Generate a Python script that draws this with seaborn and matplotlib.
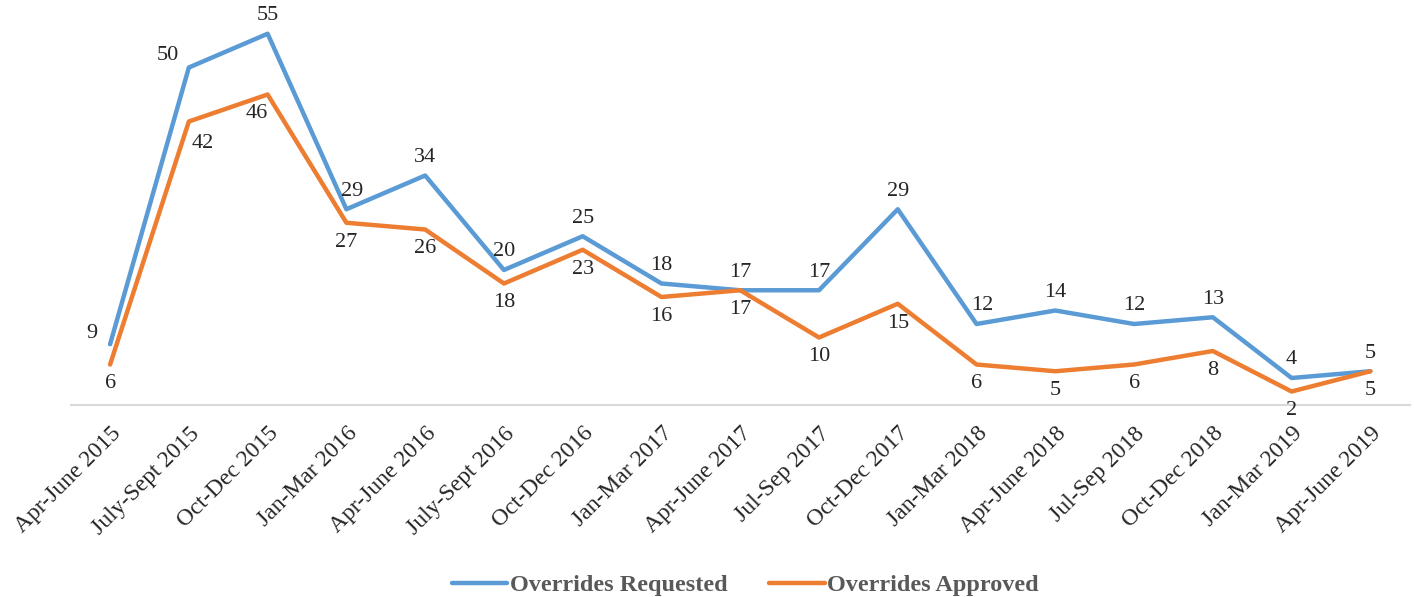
import pandas as pd
import matplotlib.pyplot as plt
import seaborn as sns

# Dados do gráfico
periodos = ["Apr-June 2015", "July-Sept 2015", "Oct-Dec 2015", "Jan-Mar 2016",
            "Apr-June 2016", "July-Sept 2016", "Oct-Dec 2016", "Jan-Mar 2017",
            "Apr-June 2017", "Jul-Sep 2017", "Oct-Dec 2017", "Jan-Mar 2018",
            "Apr-June 2018", "Jul-Sep 2018", "Oct-Dec 2018", "Jan-Mar 2019",
            "Apr-June 2019"]
requested = [9, 50, 55, 29, 34, 20, 25, 18, 17, 17, 29, 12, 14, 12, 13, 4, 5]
approved = [6, 42, 46, 27, 26, 18, 23, 16, 17, 10, 15, 6, 5, 6, 8, 2, 5]

df = pd.DataFrame({
    "x": list(range(len(periodos))) * 2,
    "valor": requested + approved,
    "serie": ["Overrides Requested"] * len(periodos) + ["Overrides Approved"] * len(periodos),
})

sns.set_style("white")
plt.rcParams["font.family"] = ["Liberation Serif", "DejaVu Serif"]

fig = plt.figure(figsize=(14.14, 5.97), dpi=100)
ax = fig.add_axes([0.050, 0.3216, 0.947, 0.6784])

cores = {"Overrides Requested": "#5B9BD5", "Overrides Approved": "#ED7D31"}
sns.lineplot(data=df, x="x", y="valor", hue="serie", palette=cores, linewidth=3.2,
             ax=ax, legend=False)

ax.set_xlim(-0.5, len(periodos) - 0.5)
ax.set_ylim(0, 60)
ax.set_yticks([])
ax.set_xlabel("")
ax.set_ylabel("")
for s in ["top", "right", "left"]:
    ax.spines[s].set_visible(False)
ax.spines["bottom"].set_color("#D9D9D9")
ax.spines["bottom"].set_linewidth(1.5)

ax.set_xticks(range(len(periodos)))
ax.set_xticklabels(periodos, rotation=45, ha="right", rotation_mode="anchor",
                   fontsize=17)
ax.tick_params(axis="x", length=0, pad=13)

# Rótulos de dados
off_req = {0: (-13, 8), 1: (-15, 9), 3: (4, 13), 11: (4, 13)}
off_apr = {1: (10, -16), 2: (-8, -14)}
for i, v in enumerate(requested):
    dx, dy = off_req.get(i, (0, 13))
    ax.annotate(str(v), (i, v), xytext=(dx, dy), textcoords="offset points",
                ha="center", va="center", fontsize=16)
for i, v in enumerate(approved):
    dx, dy = off_apr.get(i, (0, -14))
    ax.annotate(str(v), (i, v), xytext=(dx, dy), textcoords="offset points",
                ha="center", va="center", fontsize=16)

handles = [plt.Line2D([], [], color=cores[k], linewidth=3.2) for k in cores]
fig.legend(handles, list(cores), loc="lower center", ncol=2, frameon=False,
           bbox_to_anchor=(0.527, -0.035), handlelength=2.3, handletextpad=0.1,
           columnspacing=1.7, prop={"weight": "bold", "size": 17.5,
                                    "family": "Liberation Serif"},
           labelcolor="#595959")

fig.savefig("out.png", dpi=100)
